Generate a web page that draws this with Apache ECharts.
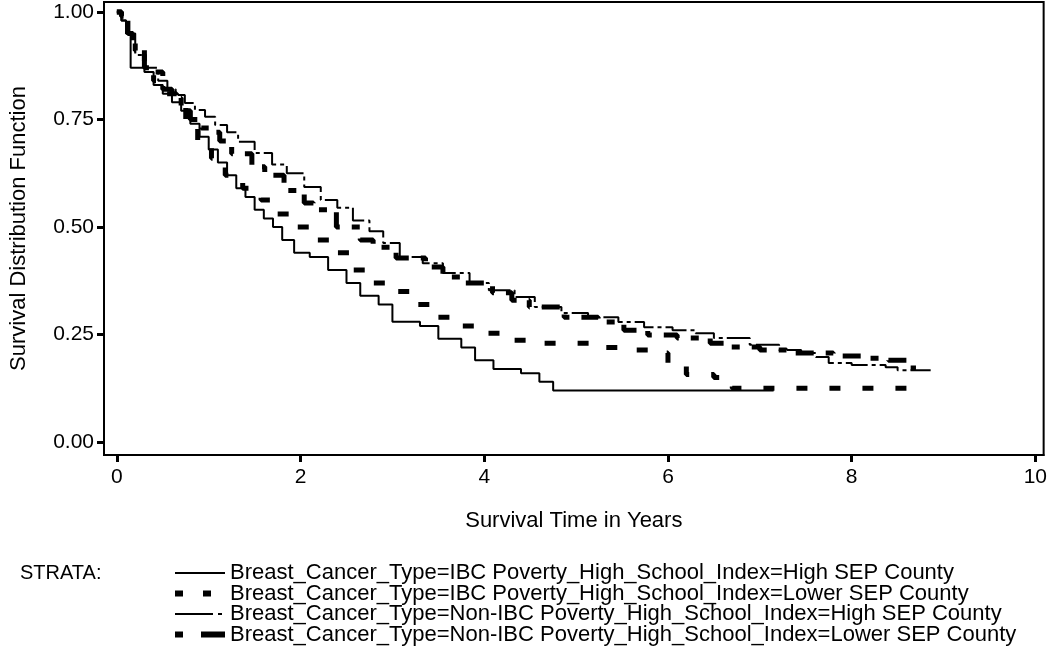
<!DOCTYPE html>
<html>
<head>
<meta charset="utf-8">
<script src="https://cdn.jsdelivr.net/npm/echarts@6/dist/echarts.min.js"></script>
<style>html,body{margin:0;padding:0;background:#fff;}#c{width:1050px;height:648px;}</style>
</head>
<body>
<div id="c"></div>
<script>
// Kaplan-Meier step curves (time in years, survival probability)
const names = [
  'Breast_Cancer_Type=IBC Poverty_High_School_Index=High SEP County',
  'Breast_Cancer_Type=IBC Poverty_High_School_Index=Lower SEP County',
  'Breast_Cancer_Type=Non-IBC Poverty_High_School_Index=High SEP County',
  'Breast_Cancer_Type=Non-IBC Poverty_High_School_Index=Lower SEP County'
];
const t1 = [0,0.05,0.1,0.15,0.3,0.4,0.5,0.6,0.7,0.8,0.9,1.0,1.1,1.2,1.3,1.4,1.5,1.6,1.7,1.8,1.93,2.1,2.3,2.5,2.65,2.85,3.0,3.3,3.5,3.75,3.9,4.1,4.4,4.6,4.75,7.15];
const s1 = [1,0.98,0.95,0.87,0.86,0.83,0.81,0.79,0.77,0.74,0.71,0.68,0.65,0.62,0.59,0.57,0.54,0.52,0.50,0.47,0.44,0.43,0.40,0.37,0.34,0.32,0.28,0.27,0.24,0.22,0.19,0.17,0.16,0.14,0.12,0.12];
const t2 = [0,0.05,0.12,0.17,0.3,0.38,0.5,0.65,0.75,0.88,1.03,1.18,1.37,1.57,1.75,1.93,2.12,2.33,2.54,2.79,3.04,3.25,3.47,3.73,4.0,4.27,4.55,5.2,5.5,5.8,6.0,6.2,6.5,6.7,8.65];
const s2 = [1,0.99,0.95,0.92,0.88,0.86,0.81,0.78,0.745,0.70,0.66,0.62,0.59,0.563,0.53,0.50,0.47,0.44,0.40,0.37,0.35,0.32,0.29,0.27,0.253,0.237,0.23,0.22,0.214,0.207,0.18,0.157,0.15,0.125,0.125];
const t3 = [0,0.05,0.1,0.2,0.3,0.45,0.55,0.64,0.74,0.85,0.96,1.07,1.2,1.32,1.5,1.69,1.85,2.04,2.22,2.4,2.57,2.75,2.9,3.08,3.33,3.55,3.84,4.05,4.33,4.55,4.84,5.13,5.46,5.74,6.05,6.3,6.5,6.89,7.21,7.45,7.61,7.75,8.0,8.37,8.5,8.86];
const s3 = [1,0.98,0.95,0.90,0.87,0.84,0.82,0.807,0.788,0.772,0.756,0.737,0.72,0.698,0.672,0.645,0.625,0.593,0.563,0.545,0.515,0.49,0.463,0.43,0.416,0.393,0.37,0.353,0.337,0.314,0.30,0.29,0.279,0.267,0.26,0.253,0.242,0.226,0.214,0.207,0.198,0.184,0.179,0.174,0.167,0.167];
const t4 = [0,0.05,0.12,0.2,0.3,0.4,0.5,0.6,0.7,0.8,0.92,1.0,1.12,1.25,1.47,1.61,1.82,2.04,2.14,2.39,2.65,2.79,3.04,3.36,3.55,3.76,4.09,4.3,4.49,4.87,5.24,5.52,5.78,6.1,6.46,6.64,7.0,7.29,7.8,8.2,8.4,8.6,8.7];
const s4 = [1,0.99,0.95,0.91,0.87,0.84,0.82,0.80,0.77,0.75,0.73,0.72,0.70,0.67,0.64,0.62,0.585,0.556,0.54,0.50,0.47,0.453,0.428,0.407,0.384,0.37,0.347,0.33,0.314,0.29,0.279,0.26,0.249,0.242,0.23,0.221,0.214,0.207,0.2,0.195,0.19,0.172,0.172];
const xTicks = [0,2,4,6,8,10];
const yTicks = [0,0.25,0.5,0.75,1.0];

const zip = (t, s) => t.map((v, i) => [v, s[i]]);
const FONT = 'Liberation Sans, Arial, sans-serif';
const styles = [
  {width: 2, type: 'solid'},
  {width: 5, type: [11, 22]},
  {width: 2, type: [24, 4, 4, 4]},
  {width: 5, type: [8, 12, 18, 12]}
];
const legendStyles = [
  {width: 2, type: 'solid'},
  {width: 6, type: [8, 20]},
  {width: 2, type: [38, 5, 4, 5]},
  {width: 6, type: [8, 18, 30, 0]}
];
const data = [zip(t1,s1), zip(t2,s2), zip(t3,s3), zip(t4,s4)];

const chart = echarts.init(document.getElementById('c'), null, {renderer: 'canvas'});
chart.setOption({
  animation: false,
  backgroundColor: '#fff',
  grid: {left: 98, top: 2, right: 3, bottom: 193, show: true, borderColor: '#000', borderWidth: 2, backgroundColor: 'transparent'},
  xAxis: {
    type: 'value', min: -0.14, max: 10.09,
    name: 'Survival Time in Years', nameLocation: 'middle', nameGap: 55,
    nameTextStyle: {fontFamily: FONT, fontSize: 22, color: '#000'},
    axisLine: {show: true, onZero: false, lineStyle: {color: '#000', width: 2}},
    axisTick: {show: true, length: 7, lineStyle: {color: '#000', width: 3}, customValues: xTicks},
    axisLabel: {fontFamily: FONT, fontSize: 21, color: '#000', margin: 12, customValues: xTicks},
    splitLine: {show: false}
  },
  yAxis: {
    type: 'value', min: -0.03, max: 1.023,
    name: 'Survival Distribution Function', nameLocation: 'middle', nameGap: 74,
    nameTextStyle: {fontFamily: FONT, fontSize: 22, color: '#000'},
    axisLine: {show: true, onZero: false, lineStyle: {color: '#000', width: 2}},
    axisTick: {show: true, length: 7, lineStyle: {color: '#000', width: 3}, customValues: yTicks},
    axisLabel: {fontFamily: FONT, fontSize: 21, color: '#000', margin: 10, customValues: yTicks, formatter: v => v.toFixed(2)},
    splitLine: {show: false}
  },
  legend: {
    orient: 'vertical', left: 172, top: 562, padding: 0,
    itemWidth: 50, itemHeight: 14, itemGap: -1.5,
    itemStyle: {opacity: 0, borderWidth: 0},
    textStyle: {fontFamily: FONT, fontSize: 22, color: '#000'},
    data: names.map((n, i) => ({name: n, lineStyle: Object.assign({color: '#000', cap: 'butt'}, legendStyles[i])}))
  },
  graphic: [{
    type: 'text', left: 20, top: 563,
    style: {text: 'STRATA:', font: '20px ' + FONT, fill: '#000'}
  }],
  series: data.map((d, i) => ({
    name: names[i], type: 'line', step: 'end', symbol: 'none', showSymbol: false, data: d,
    lineStyle: Object.assign({color: '#000', cap: 'butt'}, styles[i]),
    itemStyle: {color: '#000'},
    z: i === 2 ? 3 : 2
  }))
});
</script>
</body>
</html>
